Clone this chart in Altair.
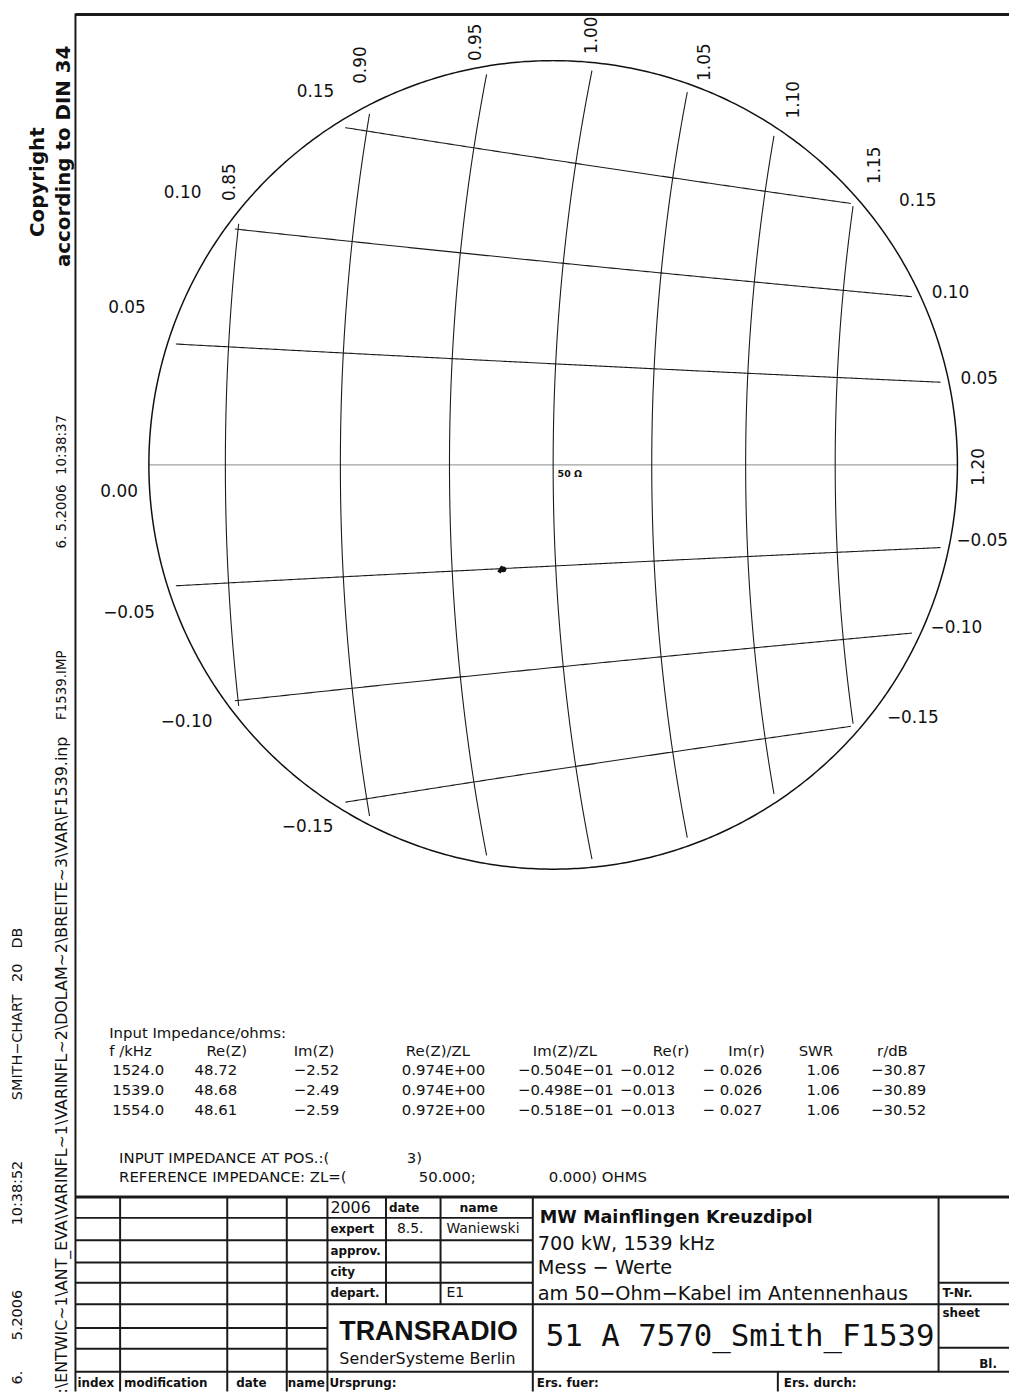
import altair as alt
import numpy as np
import pandas as pd

# ---------------- chart data ----------------
R_GRID = [0.85, 0.90, 0.95, 1.00, 1.05, 1.10, 1.15]
X_GRID = [-0.15, -0.10, -0.05, 0.05, 0.10, 0.15]
R_LABELS = ["0.85", "0.90", "0.95", "1.00", "1.05", "1.10", "1.15", "1.20"]
X_LABELS_LEFT = ["0.15", "0.10", "0.05", "0.00", "−0.05", "−0.10", "−0.15"]
X_LABELS_RIGHT = ["0.15", "0.10", "0.05", "−0.05", "−0.10", "−0.15"]
GAMMA_MAX = 0.1          # 20 dB circle (outline)
GAMMA_GRID = 0.098       # grid lines stop just inside the outline
Z_REF = 50.0

FREQ_KHZ = [1524.0, 1539.0, 1554.0]
RE_Z = [48.72, 48.68, 48.61]
IM_Z = [-2.52, -2.49, -2.59]
RE_ZN = ["0.974E+00", "0.974E+00", "0.972E+00"]
IM_ZN = ["−0.504E−01", "−0.498E−01", "−0.518E−01"]
RE_R = ["−0.012", "−0.013", "−0.013"]
IM_R = ["− 0.026", "− 0.026", "− 0.027"]
SWR = ["1.06", "1.06", "1.06"]
R_DB = ["−30.87", "−30.89", "−30.52"]
TABLE_HEAD = ["f  /kHz", "Re(Z)", "Im(Z)", "Re(Z)/ZL", "Im(Z)/ZL", "Re(r)", "Im(r)", "SWR", "r/dB"]

INK = "#111111"

# ---------------- Smith geometry (from the r / x values) ----------------
def gamma(z):
    return (z - 1) / (z + 1)

g = GAMMA_MAX
q = GAMMA_GRID
rows = []
cid = 0
for r in R_GRID:
    xm = np.sqrt(max(q * q * (r + 1) ** 2 - (r - 1) ** 2, 0) / (1 - q * q))
    G = gamma(r + 1j * np.linspace(-xm, xm, 300))
    for i, v in enumerate(G):
        rows.append({"gx": v.real, "gy": v.imag, "id": f"r{cid}", "i": i})
    cid += 1
for x in X_GRID:
    a, b = 1 - q * q, 1 + q * q
    d = np.sqrt(b * b - a * a * (1 + x * x))
    G = gamma(np.linspace((b - d) / a, (b + d) / a, 300) + 1j * x)
    for i, v in enumerate(G):
        rows.append({"gx": v.real, "gy": v.imag, "id": f"x{cid}", "i": i})
    cid += 1
grid_df = pd.DataFrame(rows)

zero_df = pd.DataFrame({"gx": [-g, g], "gy": [0.0, 0.0], "i": [0, 1]})

th = np.linspace(0, 2 * np.pi, 721)
circ_df = pd.DataFrame({"gx": g * np.cos(th), "gy": g * np.sin(th), "i": range(len(th))})

Gm = gamma((np.array(RE_Z) + 1j * np.array(IM_Z)) / Z_REF)
meas_df = pd.DataFrame({"gx": Gm.real, "gy": Gm.imag, "i": range(3)})

# ---------------- scales ----------------
CX, CY, RPX = 557.5, 463.0, 407.5
GX = alt.Scale(domain=[-g, g], range=[CX - RPX - 8, CX + RPX - 8], nice=False, zero=False)
GY = alt.Scale(domain=[-g, g], range=[CY + RPX - 8, CY - RPX - 8], nice=False, zero=False)
PX = alt.Scale(domain=[8, 1017], range=[0, 1009], nice=False, zero=False)
PY = alt.Scale(domain=[8, 1397], range=[0, 1389], nice=False, zero=False)


def gline(df, color, width, detail=True):
    enc = dict(x=alt.X("gx:Q", scale=GX, axis=None), y=alt.Y("gy:Q", scale=GY, axis=None),
               order="i:Q")
    if detail:
        enc["detail"] = "id:N"
    return alt.Chart(df).mark_line(color=color, strokeWidth=width).encode(**enc)


smith = alt.layer(
    gline(zero_df, "#8a8a8a", 1.0, detail=False),
    gline(grid_df, "#1a1a1a", 1.1),
    gline(circ_df, INK, 1.5, detail=False),
    alt.Chart(meas_df).mark_line(color=INK, strokeWidth=4).encode(
        x=alt.X("gx:Q", scale=GX, axis=None), y=alt.Y("gy:Q", scale=GY, axis=None), order="i:Q"),
    alt.Chart(meas_df.iloc[[0]]).mark_point(filled=True, color=INK, size=35, opacity=1).encode(
        x=alt.X("gx:Q", scale=GX, axis=None), y=alt.Y("gy:Q", scale=GY, axis=None)),
)

# ---------------- drawing frame / title block lines ----------------
L = []
def ln(x1, y1, x2, y2, w=2.0):
    L.append({"x": x1, "y": y1, "x2": x2, "y2": y2, "w": w})

ln(76, 9, 1017, 9, 3)
ln(76, 8, 76, 1397, 2)
ln(76, 1201, 1017, 1201, 3)
ln(76, 1309, 1017, 1309, 2)
ln(76, 1377, 1017, 1377, 2)
for yy in [1222, 1244.5, 1267, 1287.5]:
    ln(76, yy, 537, yy, 2)
for yy in [1333, 1354]:
    ln(76, yy, 330, yy, 2)
for yy in [1287.5, 1353]:
    ln(946, yy, 1017, yy, 2)
for xx in [121, 229, 289, 330, 537]:
    ln(xx, 1201, xx, 1397, 2)
for xx in [389, 444]:
    ln(xx, 1201, xx, 1309, 2)
ln(946, 1201, 946, 1377, 2)
ln(784, 1377, 784, 1397, 2)
rules_df = pd.DataFrame(L)

rules = alt.Chart(rules_df).mark_rule(color="#1a1a1a").encode(
    x=alt.X("x:Q", scale=PX, axis=None), y=alt.Y("y:Q", scale=PY, axis=None),
    x2="x2:Q", y2="y2:Q", size=alt.Size("w:Q", scale=None))

# ---------------- texts ----------------
T = []
def tx(t, x, y, s, a=0, font="DejaVu Sans", weight="normal", align="left"):
    T.append({"t": t, "x": x, "y": y, "s": s, "a": a, "font": font, "weight": weight, "align": align})

# Smith labels
for t, (x, y) in zip(X_LABELS_LEFT, [(318, 87), (184, 189), (128, 305), (120, 490), (130, 612), (188, 722), (310, 828)]):
    tx(t, x, y, 17, align="center")
for t, (x, y) in zip(X_LABELS_RIGHT, [(925, 197), (958, 290), (987, 376), (990, 540), (964, 627), (920, 718)]):
    tx(t, x, y, 17, align="center")
for t, (x, y) in zip(R_LABELS, [(232, 178), (364, 60), (480, 37), (597, 30), (711, 57), (800, 95), (882, 161), (987, 465)]):
    tx(t, x, y, 17, a=270, align="center")
tx("50 Ω", 562, 472, 9.5, weight="bold")

# left margin
tx("Copyright", 38, 178, 20, a=270, weight="bold", align="center")
tx("according to DIN 34", 64, 152, 20, a=270, weight="bold", align="center")
tx("10:38:37", 62, 443, 13.5, a=270, align="center")
tx("6.  5.2006", 62, 515, 13.5, a=270, align="center")
tx("F1539.IMP", 62, 685, 13.5, a=270, align="center")
tx(":\\ENTWIC~1\\ANT_EVA\\VARINFL~1\\VARINFL~2\\DOLAM~2\\BREITE~3\\VAR\\F1539.inp", 62, 1399, 16, a=270)
for t, y in [("6.", 1383), ("5.2006", 1320), ("10:38:52", 1197), ("SMITH−CHART", 1050), ("20", 975), ("DB", 940)]:
    tx(t, 18, y, 14.5, a=270, align="center")

# impedance table
tx("Input Impedance/ohms:", 110, 1036, 15)
for t, x in zip(TABLE_HEAD, [110, 208, 296, 409, 537, 658, 734, 805, 884]):
    tx(t, x, 1054, 15)
cols = [[f"{v:.1f}" for v in FREQ_KHZ], [f"{v:.2f}" for v in RE_Z],
        [f"{v:.2f}".replace("-", "−") for v in IM_Z], RE_ZN, IM_ZN, RE_R, IM_R, SWR, R_DB]
for col, x in zip(cols, [113, 196, 296, 405, 522, 625, 708, 813, 878]):
    for t, y in zip(col, [1073, 1093, 1113]):
        tx(t, x, y, 15)
tx("INPUT IMPEDANCE AT POS.:(", 120, 1162, 15)
tx("3)", 410, 1162, 15)
tx("REFERENCE IMPEDANCE: ZL=(", 120, 1181, 15)
tx(f"{Z_REF:.3f};", 422, 1181, 15)
tx("0.000) OHMS", 553, 1181, 15)

# title block
tx("2006", 333, 1212, 16)
tx("date", 392, 1212, 12, weight="bold")
tx("name", 463, 1212, 12.5, weight="bold")
tx("expert", 333, 1233, 12, weight="bold")
tx("8.5.", 400, 1233, 14)
tx("Waniewski", 450, 1233, 14)
tx("approv.", 333, 1255, 12, weight="bold")
tx("city", 333, 1277, 12, weight="bold")
tx("depart.", 333, 1298, 12, weight="bold")
tx("E1", 450, 1298, 14)
tx("TRANSRADIO", 342, 1337, 27, font="Liberation Sans", weight="bold")
tx("SenderSysteme Berlin", 342, 1364, 16)
tx("MW Mainflingen Kreuzdipol", 544, 1222, 17.8, weight="bold")
tx("700 kW, 1539 kHz", 542, 1248, 19.5)
tx("Mess − Werte", 542, 1273, 19.5)
tx("am 50−Ohm−Kabel im Antennenhaus", 542, 1299, 19.5)
tx("51 A 7570_Smith_F1539", 550, 1342, 31, font="DejaVu Sans Mono")
tx("T-Nr.", 950, 1298, 12, weight="bold")
tx("sheet", 950, 1318, 12, weight="bold")
tx("Bl.", 987, 1369, 12, weight="bold")
for t, x in [("index", 78), ("modification", 125), ("date", 238), ("name", 290), ("Ursprung:", 332),
             ("Ers. fuer:", 541), ("Ers. durch:", 790)]:
    tx(t, x, 1388, 12, weight="bold")

text_df = pd.DataFrame(T)
text_layers = []
for (font, weight, align), sub in text_df.groupby(["font", "weight", "align"]):
    text_layers.append(
        alt.Chart(sub).mark_text(font=font, fontWeight=weight, align=align, baseline="middle", color=INK).encode(
            x=alt.X("x:Q", scale=PX, axis=None), y=alt.Y("y:Q", scale=PY, axis=None),
            text="t:N", size=alt.Size("s:Q", scale=None), angle=alt.Angle("a:Q", scale=None)))

page = alt.layer(rules, *text_layers)

chart = alt.layer(smith, page).resolve_scale(x="independent", y="independent").properties(
    width=1009, height=1389, autosize=alt.AutoSizeParams(type="none"), padding=0,
    background="white").configure_view(stroke=None)

chart.save("out.html", embed_options={"renderer": "svg", "actions": False})
